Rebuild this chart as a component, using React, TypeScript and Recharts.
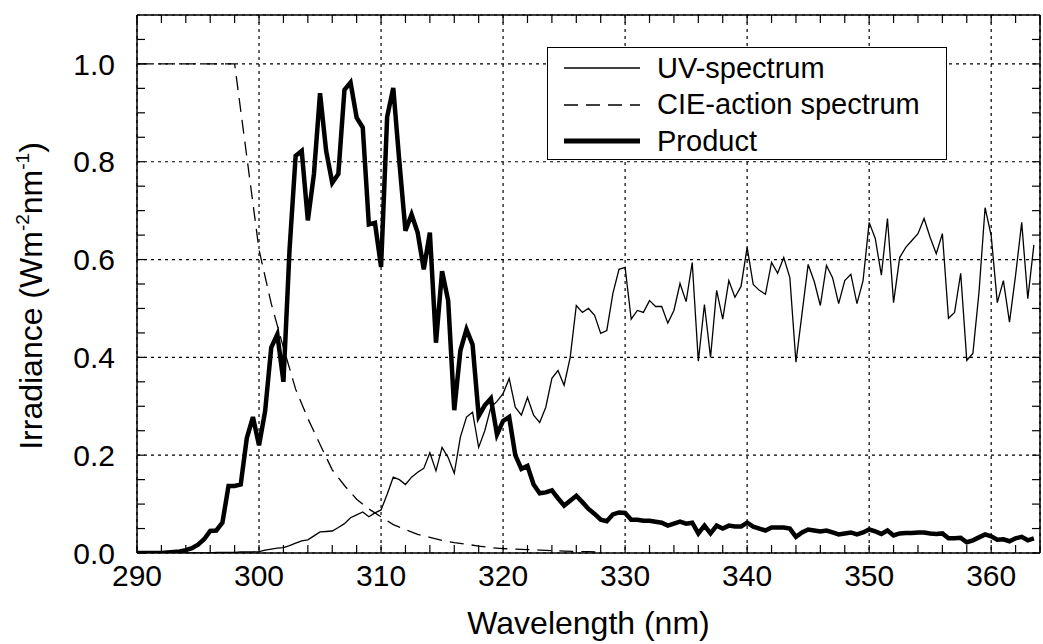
import React from 'react';
import { LineChart, Line, XAxis, YAxis, CartesianGrid, Legend } from 'recharts';

// wavelength grid of the measured spectrum (nm, 0.5 nm steps)
const WAVELENGTH = [
    290, 290.5, 291, 291.5, 292, 292.5, 293, 293.5, 294, 294.5,
    295, 295.5, 296, 296.5, 297, 297.5, 298, 298.5, 299, 299.5,
    300, 300.5, 301, 301.5, 302, 302.5, 303, 303.5, 304, 304.5,
    305, 305.5, 306, 306.5, 307, 307.5, 308, 308.5, 309, 309.5,
    310, 310.5, 311, 311.5, 312, 312.5, 313, 313.5, 314, 314.5,
    315, 315.5, 316, 316.5, 317, 317.5, 318, 318.5, 319, 319.5,
    320, 320.5, 321, 321.5, 322, 322.5, 323, 323.5, 324, 324.5,
    325, 325.5, 326, 326.5, 327, 327.5, 328, 328.5, 329, 329.5,
    330, 330.5, 331, 331.5, 332, 332.5, 333, 333.5, 334, 334.5,
    335, 335.5, 336, 336.5, 337, 337.5, 338, 338.5, 339, 339.5,
    340, 340.5, 341, 341.5, 342, 342.5, 343, 343.5, 344, 344.5,
    345, 345.5, 346, 346.5, 347, 347.5, 348, 348.5, 349, 349.5,
    350, 350.5, 351, 351.5, 352, 352.5, 353, 353.5, 354, 354.5,
    355, 355.5, 356, 356.5, 357, 357.5, 358, 358.5, 359, 359.5,
    360, 360.5, 361, 361.5, 362, 362.5, 363, 363.5,
];

const UV_SPECTRUM = [
    0, 0, 0, 0, 0, 0, 0, 0, 0, 0,
    0, 0, 0, 0.001, 0.001, 0.001, 0.001, 0.002, 0.002, 0.002,
    0.003, 0.006, 0.008, 0.01, 0.011, 0.015, 0.02, 0.025, 0.027, 0.035,
    0.043, 0.044, 0.045, 0.052, 0.06, 0.072, 0.078, 0.084, 0.074, 0.082,
    0.088, 0.12, 0.155, 0.15, 0.14, 0.155, 0.165, 0.173, 0.205, 0.168,
    0.216, 0.195, 0.163, 0.237, 0.278, 0.288, 0.216, 0.25, 0.298, 0.31,
    0.326, 0.357, 0.298, 0.282, 0.318, 0.282, 0.267, 0.298, 0.357, 0.373,
    0.343, 0.4, 0.506, 0.492, 0.5, 0.486, 0.449, 0.455, 0.531, 0.58,
    0.584, 0.478, 0.496, 0.492, 0.516, 0.504, 0.504, 0.47, 0.496, 0.551,
    0.514, 0.594, 0.392, 0.508, 0.4, 0.537, 0.478, 0.557, 0.523, 0.545,
    0.625, 0.549, 0.537, 0.529, 0.594, 0.572, 0.604, 0.563, 0.39, 0.49,
    0.59, 0.555, 0.506, 0.588, 0.563, 0.51, 0.557, 0.57, 0.51, 0.557,
    0.676, 0.643, 0.568, 0.684, 0.512, 0.604, 0.625, 0.639, 0.653, 0.684,
    0.645, 0.612, 0.653, 0.48, 0.492, 0.572, 0.394, 0.408, 0.533, 0.706,
    0.649, 0.512, 0.557, 0.472, 0.568, 0.676, 0.52, 0.63,
];

const PRODUCT = [
    0, 0, 0, 0, 0, 0.001, 0.002, 0.003, 0.006, 0.01,
    0.017, 0.028, 0.045, 0.046, 0.062, 0.137, 0.137, 0.14, 0.235, 0.278,
    0.22, 0.29, 0.42, 0.447, 0.35, 0.62, 0.812, 0.822, 0.68, 0.775,
    0.94, 0.822, 0.757, 0.775, 0.947, 0.962, 0.89, 0.87, 0.672, 0.675,
    0.585, 0.892, 0.951, 0.8, 0.659, 0.692, 0.655, 0.58, 0.655, 0.43,
    0.576, 0.516, 0.292, 0.414, 0.457, 0.426, 0.28, 0.302, 0.316, 0.242,
    0.27, 0.278, 0.2, 0.172, 0.178, 0.14, 0.122, 0.124, 0.128, 0.112,
    0.097, 0.107, 0.117, 0.104, 0.09, 0.08, 0.068, 0.065, 0.079, 0.083,
    0.082, 0.068, 0.068, 0.066, 0.066, 0.064, 0.062, 0.056, 0.06, 0.064,
    0.06, 0.062, 0.04, 0.056, 0.04, 0.056, 0.05, 0.056, 0.054, 0.054,
    0.062, 0.054, 0.05, 0.046, 0.052, 0.052, 0.052, 0.05, 0.033, 0.042,
    0.048, 0.046, 0.044, 0.046, 0.042, 0.038, 0.04, 0.042, 0.038, 0.042,
    0.048, 0.044, 0.039, 0.046, 0.036, 0.04, 0.041, 0.041, 0.042, 0.042,
    0.04, 0.039, 0.04, 0.03, 0.03, 0.031, 0.022, 0.026, 0.032, 0.038,
    0.034, 0.027, 0.028, 0.024, 0.03, 0.033, 0.026, 0.03,
];

// CIE erythemal action spectrum, 1 nm steps
const CIE_WAVELENGTH = [
    290, 291, 292, 293, 294, 295, 296, 297, 298, 299,
    300, 301, 302, 303, 304, 305, 306, 307, 308, 309,
    310, 311, 312, 313, 314, 315, 316, 317, 318, 319,
    320, 321, 322, 323, 324, 325, 326, 327, 328,
];

const CIE_ACTION = [
    1, 1, 1, 1, 1, 1, 1, 1, 1, 0.81,
    0.62, 0.51, 0.42, 0.335, 0.275, 0.222, 0.17, 0.138, 0.11, 0.09,
    0.074, 0.058, 0.048, 0.038, 0.032, 0.026, 0.021, 0.018, 0.014, 0.011,
    0.009, 0.008, 0.007, 0.006, 0.005, 0.004, 0.003, 0.003, 0.002,
];

const X_TICKS = [290, 300, 310, 320, 330, 340, 350, 360];
const X_MINOR_TICKS = [
    290, 292, 294, 296, 298, 300, 302, 304, 306, 308, 310, 312, 314, 316, 318, 320, 322, 324, 326,
    328, 330, 332, 334, 336, 338, 340, 342, 344, 346, 348, 350, 352, 354, 356, 358, 360, 362, 364,
];
const Y_TICKS = [0, 0.2, 0.4, 0.6, 0.8, 1.0];
const Y_MINOR_TICKS = [
    0, 0.05, 0.1, 0.15, 0.2, 0.25, 0.3, 0.35, 0.4, 0.45, 0.5, 0.55,
    0.6, 0.65, 0.7, 0.75, 0.8, 0.85, 0.9, 0.95, 1.0, 1.05,
];

const LEGEND_LABELS = ['UV-spectrum', 'CIE-action spectrum', 'Product'];

const FONT = '"Liberation Sans", Arial, Helvetica, sans-serif';
const X_DOMAIN: [number, number] = [290, 364];
const Y_DOMAIN: [number, number] = [0, 1.1];

const spectrumData = WAVELENGTH.map((w, i) => ({ wavelength: w, uv: UV_SPECTRUM[i], product: PRODUCT[i] }));
const cieData = CIE_WAVELENGTH.map((w, i) => ({ wavelength: w, cie: CIE_ACTION[i] }));

const noLabel = () => '';

const YTitle = (props: any) => {
    const vb = props.viewBox || { x: 0, y: 15, width: 137, height: 538 };
    const cx = 42;
    const cy = vb.y + vb.height / 2 + 12;
    return (
        <text
            x={cx}
            y={cy}
            transform={`rotate(-90 ${cx} ${cy})`}
            textAnchor="middle"
            fontSize={32}
            fill="#000"
            fontFamily={FONT}
        >
            <tspan>Irradiance (Wm</tspan>
            <tspan dy={-13} fontSize={19}>-2</tspan>
            <tspan dy={13}>nm</tspan>
            <tspan dy={-13} fontSize={19}>-1</tspan>
            <tspan dy={13}>)</tspan>
        </text>
    );
};

const legendStyles = [
    { strokeWidth: 1.3, dash: undefined as string | undefined },
    { strokeWidth: 1.3, dash: '14 8' },
    { strokeWidth: 5, dash: undefined as string | undefined },
];

const renderLegend = () => (
    <div
        style={{
            width: 400,
            height: 113,
            border: '1px solid #000',
            background: '#fff',
            boxSizing: 'border-box',
            position: 'relative',
            fontFamily: FONT,
            fontSize: 29,
            color: '#000',
        }}
    >
        {LEGEND_LABELS.map((label, i) => (
            <div
                key={label}
                style={{
                    position: 'absolute',
                    left: 16,
                    top: 2 + i * 36.5,
                    height: 36,
                    display: 'flex',
                    alignItems: 'center',
                    whiteSpace: 'nowrap',
                }}
            >
                <svg width={76} height={10} style={{ marginRight: 17 }}>
                    <line
                        x1={0}
                        y1={5}
                        x2={76}
                        y2={5}
                        stroke="#000"
                        strokeWidth={legendStyles[i].strokeWidth}
                        strokeDasharray={legendStyles[i].dash}
                    />
                </svg>
                <span>{label}</span>
            </div>
        ))}
    </div>
);

const minorTickLine = { stroke: '#000', strokeWidth: 1.2 };

const App: React.FC = () => {
    return (
        <div style={{ position: 'absolute', left: 0, top: 0, width: 1043, height: 644, background: '#fff' }}>
            <LineChart
                width={1043}
                height={644}
                data={spectrumData}
                margin={{ top: 15, right: 3, left: 0, bottom: 0 }}
                style={{ fontFamily: FONT }}
            >
                <CartesianGrid
                    xAxisId="x"
                    yAxisId="y"
                    stroke="#000"
                    strokeDasharray="3 4"
                    strokeWidth={1.2}
                />
                <XAxis
                    xAxisId="x"
                    dataKey="wavelength"
                    type="number"
                    domain={X_DOMAIN}
                    allowDataOverflow
                    ticks={X_TICKS}
                    interval={0}
                    height={91}
                    tickLine={false}
                    tickSize={10}
                    tickMargin={2}
                    axisLine={{ stroke: '#000', strokeWidth: 1.5 }}
                    tick={{ fill: '#000', fontSize: 30 }}
                    label={{ value: 'Wavelength (nm)', position: 'insideBottom', offset: 10, fontSize: 32, fill: '#000' }}
                />
                {/* minor ticks: inward on the bottom and top */}
                <XAxis
                    xAxisId="xb"
                    dataKey="wavelength"
                    type="number"
                    domain={X_DOMAIN}
                    allowDataOverflow
                    ticks={X_MINOR_TICKS}
                    interval={0}
                    orientation="bottom"
                    mirror
                    height={1}
                    tickFormatter={noLabel}
                    tickSize={8}
                    tickLine={minorTickLine}
                    axisLine={false}
                />
                <XAxis
                    xAxisId="xt"
                    dataKey="wavelength"
                    type="number"
                    domain={X_DOMAIN}
                    allowDataOverflow
                    ticks={X_MINOR_TICKS}
                    interval={0}
                    orientation="top"
                    mirror
                    height={1}
                    tickFormatter={noLabel}
                    tickSize={8}
                    tickLine={minorTickLine}
                    axisLine={{ stroke: '#000', strokeWidth: 1.5 }}
                />
                <YAxis
                    yAxisId="y"
                    type="number"
                    domain={Y_DOMAIN}
                    allowDataOverflow
                    ticks={Y_TICKS}
                    interval={0}
                    width={137}
                    tickLine={false}
                    tickSize={20}
                    tickMargin={2}
                    axisLine={{ stroke: '#000', strokeWidth: 1.5 }}
                    tick={{ fill: '#000', fontSize: 30 }}
                    tickFormatter={(v: number) => v.toFixed(1)}
                    label={<YTitle />}
                />
                <YAxis
                    yAxisId="yl"
                    type="number"
                    domain={Y_DOMAIN}
                    allowDataOverflow
                    ticks={Y_MINOR_TICKS}
                    interval={0}
                    orientation="left"
                    mirror
                    width={1}
                    tickFormatter={noLabel}
                    tickSize={8}
                    tickLine={minorTickLine}
                    axisLine={false}
                />
                <YAxis
                    yAxisId="yr"
                    type="number"
                    domain={Y_DOMAIN}
                    allowDataOverflow
                    ticks={Y_MINOR_TICKS}
                    interval={0}
                    orientation="right"
                    mirror
                    width={1}
                    tickFormatter={noLabel}
                    tickSize={8}
                    tickLine={minorTickLine}
                    axisLine={{ stroke: '#000', strokeWidth: 1.5 }}
                />
                <Legend
                    layout="horizontal"
                    verticalAlign="middle"
                    align="center"
                    content={renderLegend}
                    wrapperStyle={{ left: 547, top: 47, width: 400, height: 113 }}
                />
                {/* invisible series binding the minor-tick axes */}
                <Line
                    xAxisId="xb"
                    yAxisId="yl"
                    dataKey="product"
                    stroke="none"
                    strokeOpacity={0}
                    dot={false}
                    activeDot={false}
                    legendType="none"
                    isAnimationActive={false}
                />
                <Line
                    xAxisId="xt"
                    yAxisId="yr"
                    dataKey="product"
                    stroke="none"
                    strokeOpacity={0}
                    dot={false}
                    activeDot={false}
                    legendType="none"
                    isAnimationActive={false}
                />
                <Line
                    xAxisId="x"
                    yAxisId="y"
                    type="linear"
                    dataKey="uv"
                    name="UV-spectrum"
                    stroke="#000"
                    strokeWidth={1.3}
                    dot={false}
                    isAnimationActive={false}
                />
                <Line
                    xAxisId="x"
                    yAxisId="y"
                    type="linear"
                    data={cieData}
                    dataKey="cie"
                    name="CIE-action spectrum"
                    stroke="#000"
                    strokeWidth={1.3}
                    strokeDasharray="14 8"
                    dot={false}
                    isAnimationActive={false}
                />
                <Line
                    xAxisId="x"
                    yAxisId="y"
                    type="linear"
                    dataKey="product"
                    name="Product"
                    stroke="#000"
                    strokeWidth={4.5}
                    dot={false}
                    isAnimationActive={false}
                />
            </LineChart>
        </div>
    );
};

export default App;
